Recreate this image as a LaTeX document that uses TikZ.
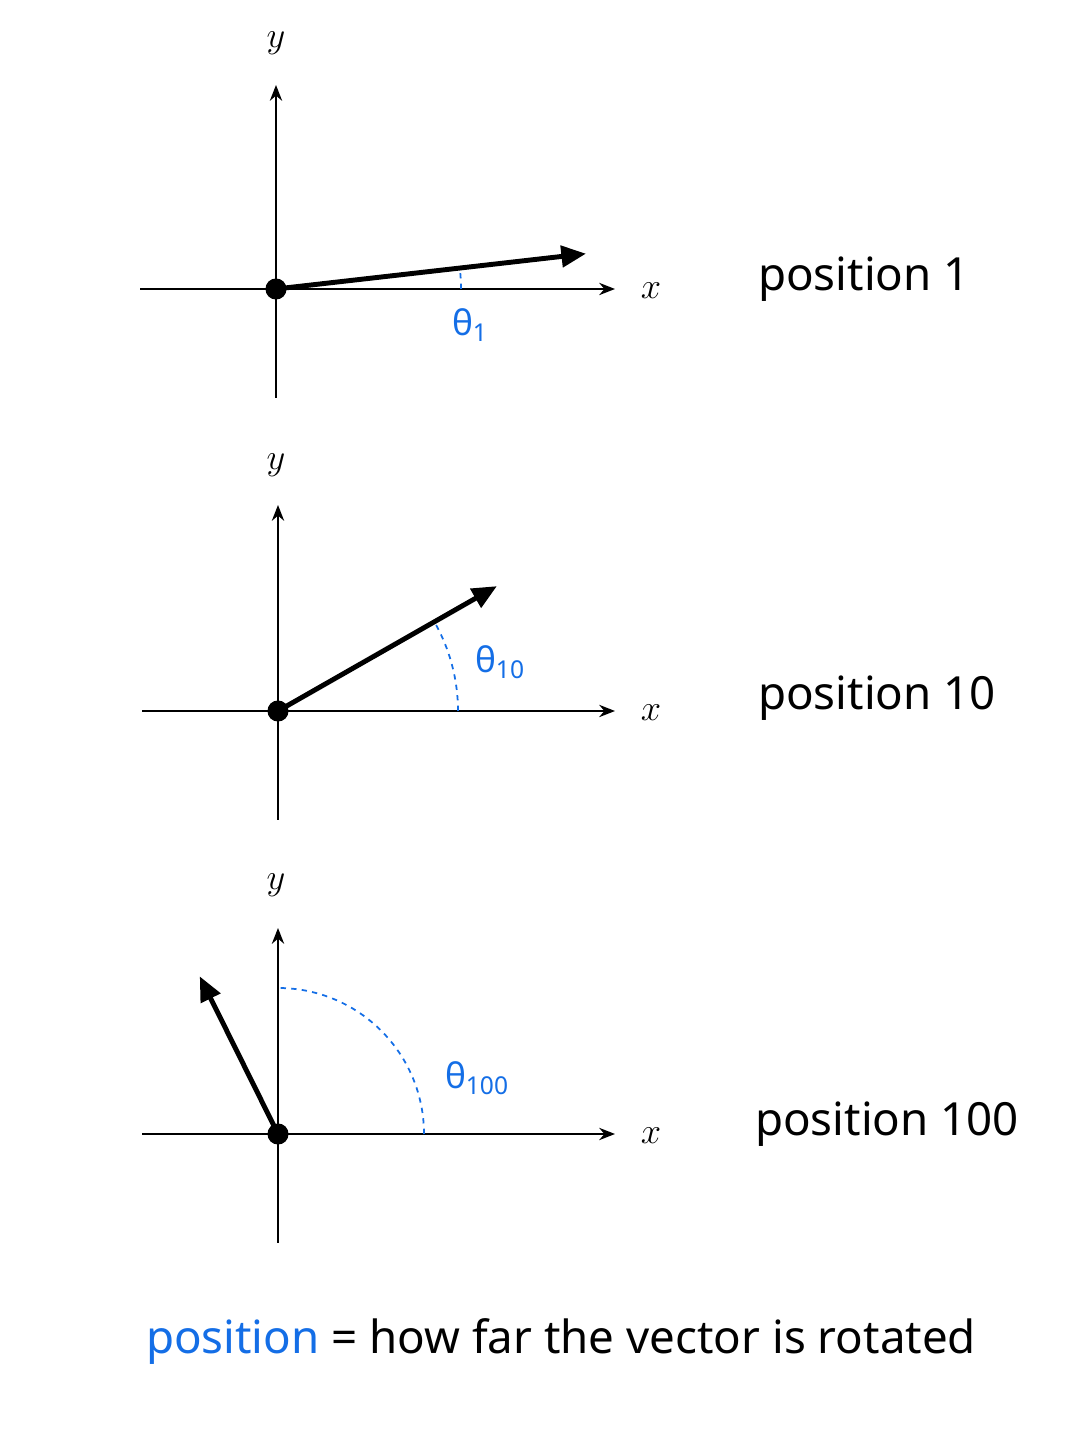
\documentclass[tikz,border=0pt]{standalone}
\usepackage{fontspec}
\setmainfont{Noto Sans}
\usepackage{tikz}
\usetikzlibrary{arrows.meta, positioning, calc}
\definecolor{posblue}{RGB}{20,110,230}

\begin{document}
\begin{tikzpicture}[x=0.02cm, y=0.02cm, >=Stealth,
  axis/.style={line width=1.1pt, -{Stealth[length=9pt, width=7pt]}},
  vec/.style={line width=2.8pt, -{Triangle[length=14pt, width=12pt]}},
  angarc/.style={posblue, dashed, line width=1pt},
  dot/.style={circle, fill=black, inner sep=0pt, minimum size=12pt},
  axlabel/.style={font=\fontsize{20}{24}\selectfont},
  anglabel/.style={text=posblue, font=\fontsize{20}{24}\selectfont},
  poslabel/.style={anchor=west, font=\fontsize{26}{30}\selectfont}]

  \useasboundingbox (0,0) rectangle (1086,1448);

  % Panel 1: position 1
  \node[dot] (O1) at (276,1159) {};
  \coordinate (X1w) at (140,1159);
  \coordinate (X1e) at (615,1159);
  \coordinate (Y1s) at (276,1050);
  \coordinate (Y1n) at (276,1363);
  \draw[axis] (X1w) -- (X1e);
  \draw[axis] (Y1s) -- (Y1n);
  \draw[angarc] (O1.center) ++(185,0) arc[start angle=0, end angle=6.5, radius=185];
  \coordinate (V1) at ($(O1.center)+(6.5:312)$);
  \draw[vec] (O1.center) -- (V1);
  \node[axlabel] (x1) at (651,1157) {$x$};
  \node[axlabel] (y1) at (276,1405) {$y$};
  \node[anglabel] (t1) at (470,1123) {θ\textsubscript{1}};
  \node[poslabel] (p1) at (752,1169) {position 1};

  % Panel 2: position 10
  \node[dot] (O2) at (278,737) {};
  \coordinate (X2w) at (142,737);
  \coordinate (X2e) at (615,737);
  \coordinate (Y2s) at (278,628);
  \coordinate (Y2n) at (278,943);
  \draw[axis] (X2w) -- (X2e);
  \draw[axis] (Y2s) -- (Y2n);
  \draw[angarc] (O2.center) ++(180,0) arc[start angle=0, end angle=29.7, radius=180];
  \coordinate (V2) at ($(O2.center)+(29.7:252)$);
  \draw[vec] (O2.center) -- (V2);
  \node[axlabel] (x2) at (651,735) {$x$};
  \node[axlabel] (y2) at (276,983) {$y$};
  \node[anglabel] (t2) at (500,786) {θ\textsubscript{10}};
  \node[poslabel] (p2) at (752,750) {position 10};

  % Panel 3: position 100
  \node[dot] (O3) at (278,314) {};
  \coordinate (X3w) at (142,314);
  \coordinate (X3e) at (615,314);
  \coordinate (Y3s) at (278,205);
  \coordinate (Y3n) at (278,520);
  \draw[axis] (X3w) -- (X3e);
  \draw[axis] (Y3s) -- (Y3n);
  \draw[angarc] (O3.center) ++(146,0) arc[start angle=0, end angle=90, radius=146];
  \coordinate (V3) at ($(O3.center)+(116.4:176)$);
  \draw[vec] (O3.center) -- (V3);
  \node[axlabel] (x3) at (651,312) {$x$};
  \node[axlabel] (y3) at (276,563) {$y$};
  \node[anglabel] (t3) at (477,370) {θ\textsubscript{100}};
  \node[poslabel] (p3) at (749,324) {position 100};

  % Caption
  \node[font=\fontsize{26}{30}\selectfont] (cap) at (561,106)
    {\textcolor{posblue}{position} = how far the vector is rotated};
\end{tikzpicture}
\end{document}
